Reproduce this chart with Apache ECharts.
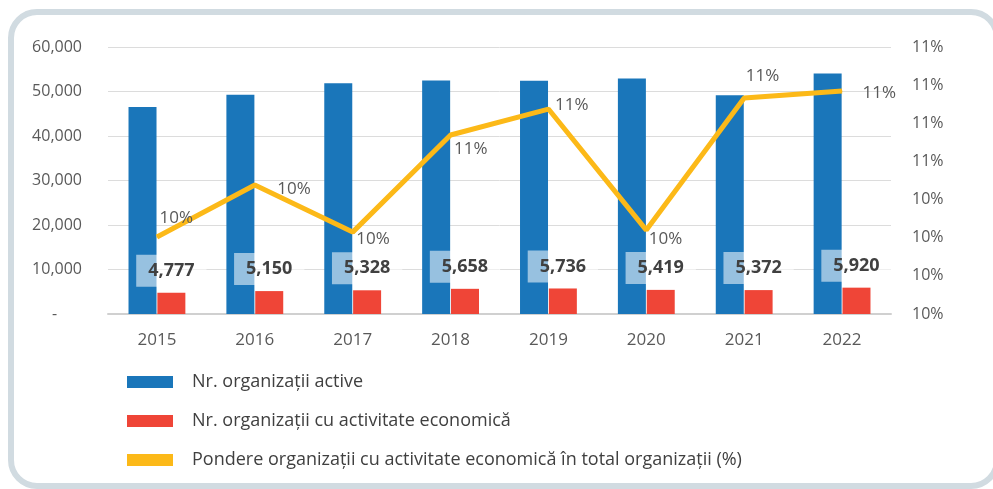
<!DOCTYPE html>
<html>
<head>
<meta charset="utf-8">
<script src="https://cdn.jsdelivr.net/npm/echarts@6/dist/echarts.min.js"></script>
<style>
  html, body { margin: 0; padding: 0; background: #fff; }
  #chart { width: 993px; height: 489px; }
</style>
</head>
<body>
<div id="chart"></div>
<script>
const years = ['2015', '2016', '2017', '2018', '2019', '2020', '2021', '2022'];
const activeOrgs = [46540, 49250, 51880, 52490, 52400, 52940, 49180, 54070];
const econOrgs = [4777, 5150, 5328, 5658, 5736, 5419, 5372, 5920];
const sharePct = [10.203, 10.407, 10.222, 10.604, 10.706, 10.23, 10.749, 10.777];

// where each % label sits relative to its point (left edge, vertical middle)
const shareLabelOffset = [[3, -18], [23, 5], [4, 8], [4, 15], [7, -3], [3, 10], [2, -21], [21, 3]];

const names = [
  'Nr. organizații active',
  'Nr. organizații cu activitate economică',
  'Pondere organizații cu activitate economică în total organizații (%)'
];

const font = 'Open Sans';
const grey = '#595959';

const chart = echarts.init(document.getElementById('chart'));

const option = {
  backgroundColor: '#fff',
  animation: false,
  textStyle: { fontFamily: font },
  graphic: [{
    type: 'rect',
    shape: { x: 11, y: 12, width: 986, height: 474, r: 26 },
    style: { fill: 'none', stroke: '#d1dbe1', lineWidth: 6 },
    z: -1
  }],
  grid: { left: 108, right: 102, top: 47, bottom: 175, containLabel: false },
  legend: {
    orient: 'vertical',
    left: 122,
    top: 368,
    itemWidth: 46,
    itemHeight: 12,
    itemGap: 21,
    icon: 'rect',
    textStyle: { fontFamily: font, fontSize: 18, color: '#404040', lineHeight: 18, padding: [0, 0, 0, 14] },
    data: names
  },
  xAxis: {
    type: 'category',
    data: years,
    axisLine: { lineStyle: { color: '#d0d0d0', width: 2 } },
    axisTick: { show: false },
    axisLabel: { color: grey, fontSize: 17, margin: 18, fontFamily: font }
  },
  yAxis: [
    {
      type: 'value',
      min: 0,
      max: 60000,
      interval: 10000,
      axisLine: { show: false },
      axisTick: { show: false },
      splitLine: { lineStyle: { color: '#dcdcdc', width: 1 } },
      axisLabel: {
        color: grey,
        fontSize: 16,
        margin: 26,
        fontFamily: font,
        formatter: v => v === 0 ? '-      ' : v.toLocaleString('en-US')
      }
    },
    {
      type: 'value',
      min: 9.9,
      max: 10.95,
      interval: 0.15,
      axisLine: { show: false },
      axisTick: { show: false },
      splitLine: { show: false },
      axisLabel: {
        color: grey,
        fontSize: 16,
        margin: 21,
        fontFamily: font,
        formatter: v => Math.round(v) + '%'
      }
    }
  ],
  series: [
    {
      name: names[0],
      type: 'bar',
      data: activeOrgs,
      barWidth: 28,
      barGap: '3%',
      itemStyle: { color: '#1a76ba' },
      z: 2
    },
    {
      name: names[1],
      type: 'bar',
      data: econOrgs,
      barWidth: 28,
      itemStyle: { color: '#ef4537' },
      z: 3,
      label: {
        show: true,
        position: 'top',
        distance: 6,
        fontFamily: font,
        fontSize: 18,
        fontWeight: 'bold',
        color: '#404040',
        backgroundColor: 'rgba(255,255,255,0.55)',
        padding: [7, 12, 7, 12],
        formatter: p => p.value.toLocaleString('en-US')
      }
    },
    {
      name: names[2],
      type: 'line',
      yAxisIndex: 1,
      symbol: 'circle',
      symbolSize: 1,
      itemStyle: { color: '#fcb918' },
      lineStyle: { color: '#fcb918', width: 5 },
      z: 4,
      data: sharePct.map((v, i) => ({
        value: v,
        label: {
          show: true,
          position: shareLabelOffset[i],
          align: 'left',
          verticalAlign: 'middle',
          fontFamily: font,
          fontSize: 17,
          color: grey,
          formatter: p => Math.round(p.value) + '%'
        }
      }))
    }
  ]
};

chart.setOption(option);
</script>
</body>
</html>
